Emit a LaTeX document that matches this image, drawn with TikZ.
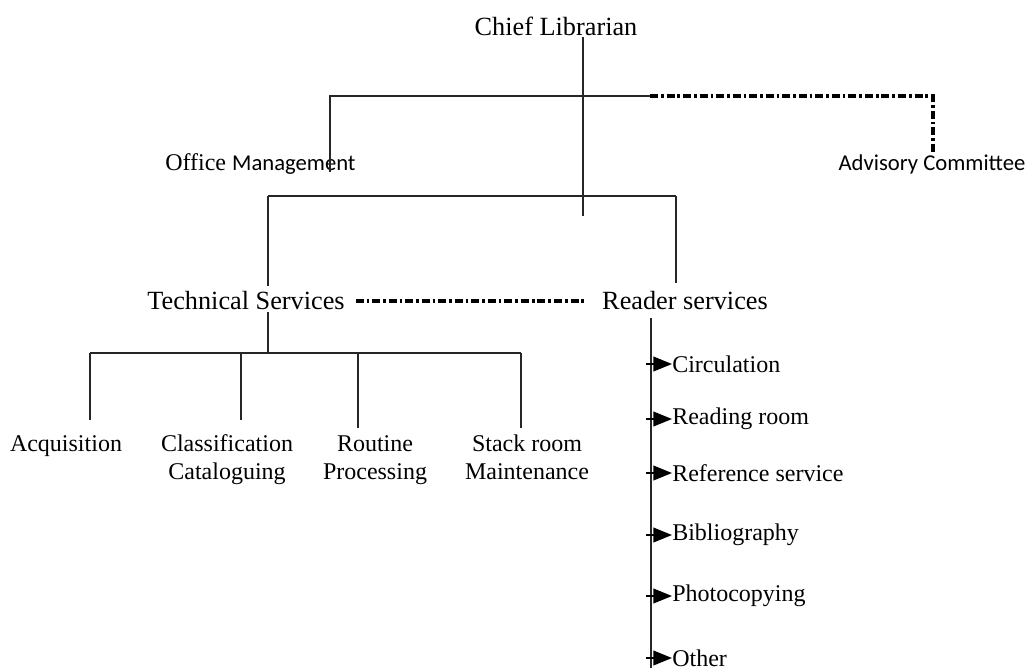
\documentclass[tikz,border=0pt]{standalone}
\usepackage{fontspec}
\setmainfont{Liberation Serif}
\newfontfamily\carlito{Carlito}
\usetikzlibrary{arrows.meta}
\begin{document}
\begin{tikzpicture}[x=0.75pt,y=-0.75pt,
  lbl/.style={inner sep=0pt,font=\fontsize{18}{21}\selectfont,align=center},
  head/.style={inner sep=0pt,font=\fontsize{19.7}{23}\selectfont},
  sans/.style={inner sep=0pt,font=\carlito\fontsize{17}{20}\selectfont},
  conn/.style={line width=1.4pt,draw=black!85},
  dashdot/.style={line width=2.4pt,dash pattern=on 6pt off 2.2pt on 2pt off 2.2pt},
  arr/.style={line width=1.4pt,-{Triangle[length=14pt,width=11pt]}}]
\useasboundingbox (0,0) rectangle (1030,668);
% nodes
\node[head] (chief) at (556,26) {Chief Librarian};
\node[lbl,anchor=base west] (office) at (165,170) {Office {\carlito\fontsize{17}{20}\selectfont Management}};
\node[sans,anchor=base] (advisory) at (932,170) {Advisory Committee};
\node[head] (tech) at (246,301) {Technical Services};
\node[head] (reader) at (685,301) {Reader services};
\node[lbl,anchor=base] (acq) at (66,451) {Acquisition};
\node[lbl,anchor=base] (class) at (227,479) {Classification\\Cataloguing};
\node[lbl,anchor=base] (routine) at (375,479) {Routine\\Processing};
\node[lbl,anchor=base] (stack) at (527,479) {Stack room\\Maintenance};
\node[lbl,anchor=west] (circ) at (672,364) {Circulation};
\node[lbl,anchor=west] (reading) at (672,419) {Reading room};
\node[lbl,anchor=west] (refs) at (672,473) {Reference service};
\node[lbl,anchor=west] (biblio) at (672,535) {Bibliography};
\node[lbl,anchor=west] (photo) at (672,596) {Photocopying};
\node[lbl,anchor=west] (other) at (672,658) {Other};
% junction coordinates
\coordinate (ctop) at (583,37);
\coordinate (j1) at (583,96);
\coordinate (offj) at (330,96);
\coordinate (offend) at (330,172);
\coordinate (dstart) at (650,96);
\coordinate (dcorner) at (933,96);
\coordinate (j2) at (583,196);
\coordinate (stub) at (583,216);
\coordinate (tj) at (268,196);
\coordinate (rj) at (676,196);
\coordinate (ttop) at (268,312);
\coordinate (tbar) at (268,353);
\coordinate (bl) at (90,353);
\coordinate (br) at (521,353);
\coordinate (rtop) at (651,318);
\coordinate (rbot) at (651,668);
\coordinate (atail) at (646,318);
% connectors
\draw[conn] (ctop) -- (stub);
\draw[conn] (offend) -- (offj) -- (dstart);
\draw[dashdot] (dstart) -- (dcorner) -- (dcorner |- advisory.north);
\draw[conn] (tj) -- (rj);
\draw[conn] (tj) -- (268,286);
\draw[conn] (rj) -- (676,283);
\draw[dashdot,shorten <=8pt,shorten >=13pt] (tech.east) -- (reader.west);
\draw[conn] (ttop) -- (tbar);
\draw[conn] (bl) -- (br);
\draw[conn] (bl) -- (90,420);
\draw[conn] (241,353) -- (241,420);
\draw[conn] (358,353) -- (358,428);
\draw[conn] (br) -- (521,428);
\draw[conn] (rtop) -- (rbot);
\foreach \n in {circ,reading,refs,biblio,photo,other}
  \draw[arr] (atail |- \n.west) -- (\n.west);
\end{tikzpicture}
\end{document}
